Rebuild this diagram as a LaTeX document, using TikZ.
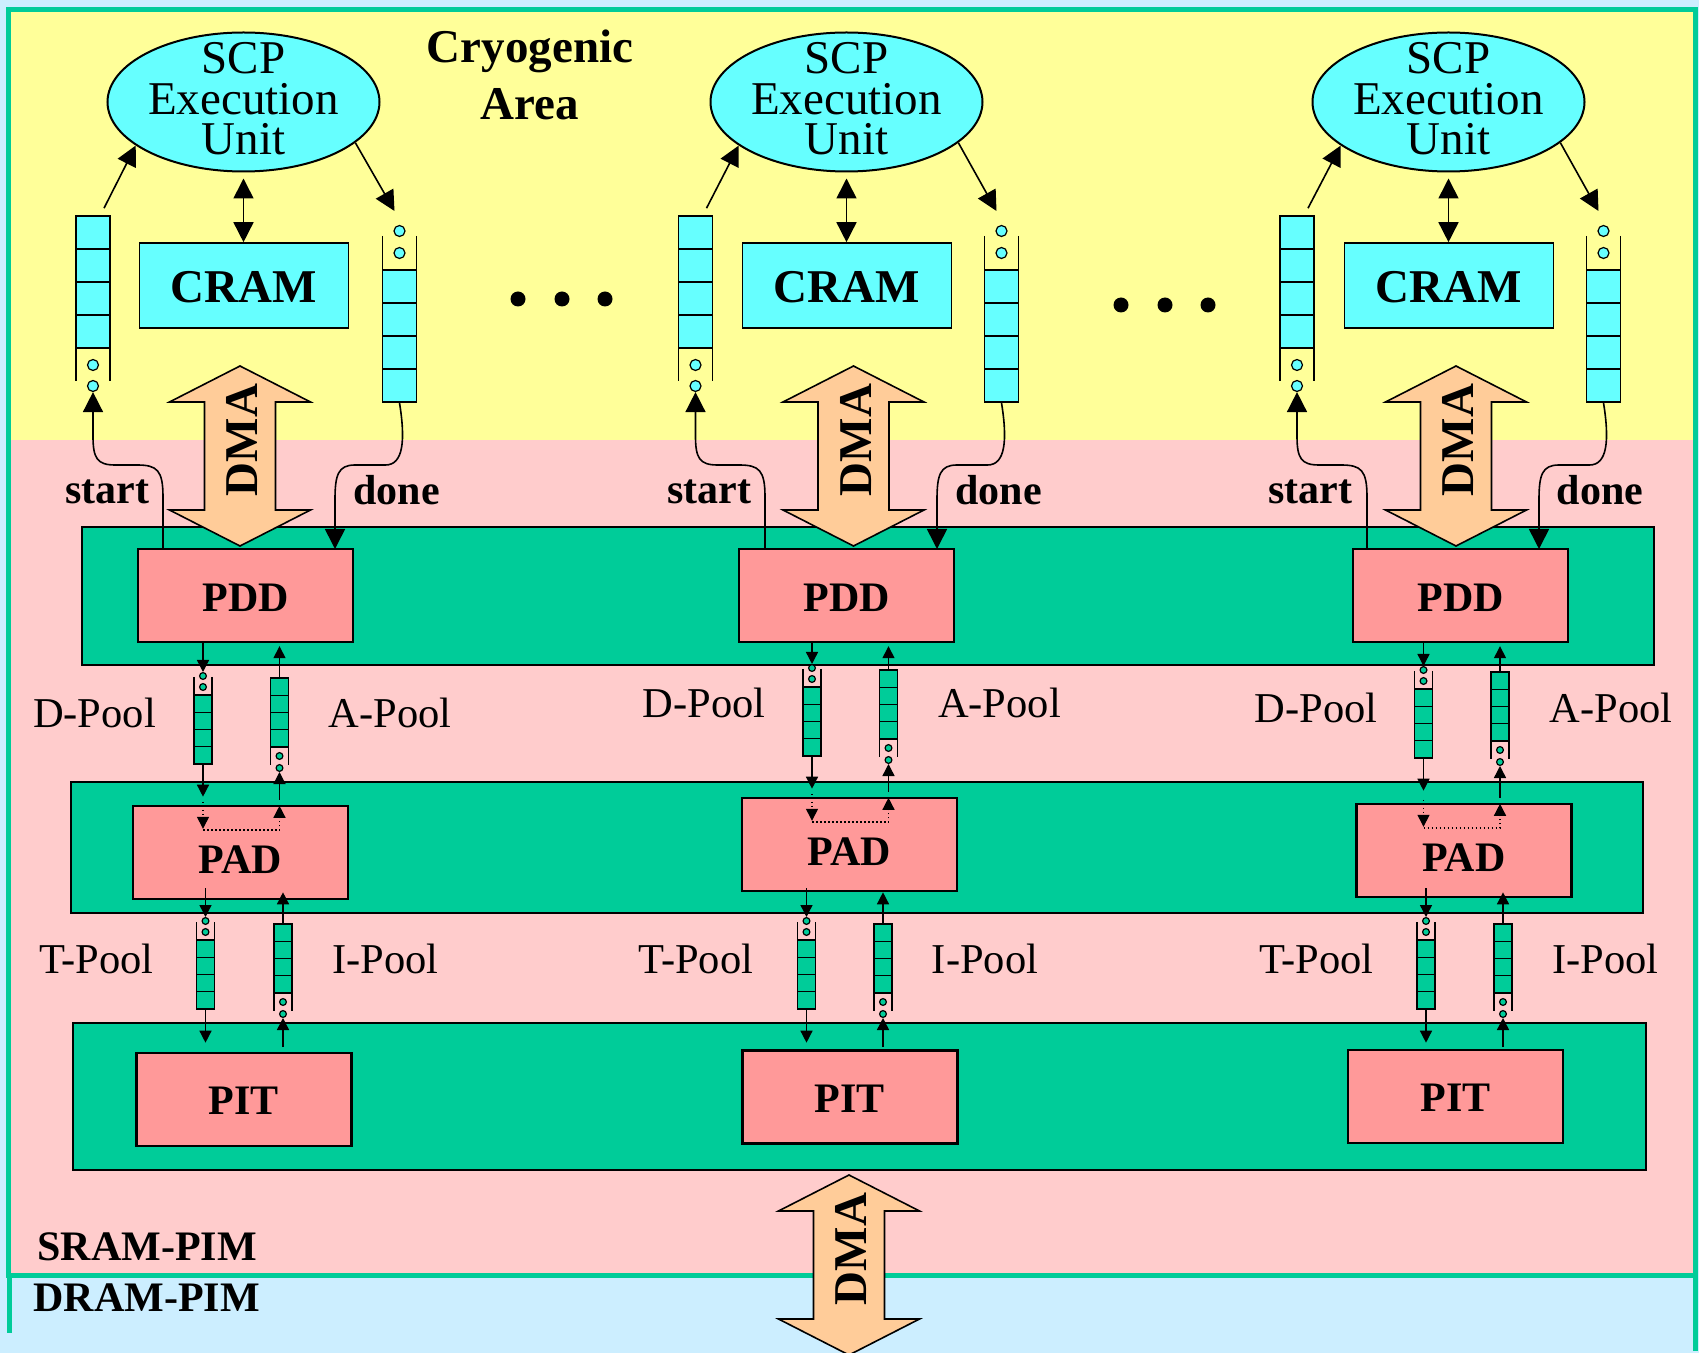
\documentclass[tikz,border=0pt]{standalone}
\usepackage{fontspec}
\setmainfont{Liberation Serif}
\usetikzlibrary{arrows.meta,shapes.geometric,calc}
\definecolor{bgblue}{HTML}{CCEEFF}
\definecolor{tealc}{HTML}{00CC99}
\definecolor{yel}{HTML}{FFFF99}
\definecolor{pnk}{HTML}{FFCCCC}
\definecolor{cyn}{HTML}{66FFFF}
\definecolor{salm}{HTML}{FF9999}
\definecolor{peach}{HTML}{FFCC99}
\tikzset{
 band/.style={draw=black, fill=tealc, line width=1.2pt, inner sep=0pt},
 redbox/.style={draw=black, fill=salm, line width=1.2pt, inner sep=0pt, minimum width=107.5pt, minimum height=46.5pt, font=\fontsize{21}{24}\selectfont\bfseries, text depth=0pt},
 crambox/.style={draw=black, fill=cyn, line width=0.8pt, inner sep=0pt, minimum width=104.5pt, minimum height=42.5pt, font=\fontsize{23.5}{28}\selectfont\bfseries, text depth=0pt, text height=17.5pt},
 ell/.style={ellipse, draw=black, fill=cyn, line width=1pt, inner sep=0pt, minimum width=136pt, minimum height=69.5pt},
 etext/.style={align=center, inner sep=0pt, font=\fontsize{23.5}{20.25}\selectfont},
 cq/.style={draw=black, fill=cyn, line width=0.8pt, inner sep=0pt, minimum width=17pt, minimum height=66pt},
 qline/.style={line width=0.8pt},
 cdot/.style={circle, draw=black, fill=cyn, line width=0.6pt, inner sep=0pt, minimum size=5.5pt},
 tq/.style={draw=black, fill=tealc, line width=0.7pt, inner sep=0pt, minimum width=9pt, minimum height=34.5pt},
 pline/.style={line width=0.7pt},
 tdot/.style={circle, draw=black, fill=tealc, line width=0.6pt, inner sep=0pt, minimum size=3.4pt},
 barrow/.style={line width=0.8pt, -{Triangle[length=10pt,width=10pt]}},
 dbarrow/.style={line width=0.8pt, {Triangle[length=10pt,width=10pt]}-{Triangle[length=10pt,width=10pt]}},
 sarrow/.style={line width=0.7pt, -{Triangle[length=6pt,width=6pt]}},
 darrow/.style={line width=0.7pt, dash pattern=on 0.8pt off 1.2pt, -{Triangle[length=6pt,width=6pt]}},
 dmashape/.style={draw=black, fill=peach, line width=0.8pt, line join=miter},
 dmatext/.style={rotate=90, inner sep=0pt, font=\fontsize{23.5}{28}\selectfont\bfseries, text depth=0pt},
 bigtext/.style={inner sep=0pt, font=\fontsize{23.5}{28}\selectfont\bfseries},
 boldtext/.style={inner sep=0pt, font=\fontsize{21}{24}\selectfont\bfseries},
 pooltext/.style={inner sep=0pt, font=\fontsize{21.25}{24}\selectfont},
 bigdot/.style={circle, fill=black, inner sep=0pt, minimum size=7.5pt},
 frameline/.style={draw=tealc, line width=2.5pt},
}
% cyan queue, boxes on top, open end below (start queue)
\newcommand\startqueue[2]{%
  \node[cq] (#1) at (#2,282) {};
  \draw[qline] (#2-17,249) -- (#2+17,249) (#2-17,282) -- (#2+17,282) (#2-17,315) -- (#2+17,315);
  \draw[qline] (#2-17,348) -- (#2-17,381) (#2+17,348) -- (#2+17,381);
  \node[cdot] (#1-a) at (#2,365) {};
  \node[cdot] (#1-b) at (#2,386) {};}
% cyan queue, open end on top (done queue)
\newcommand\donequeue[2]{%
  \node[cdot] (#1-a) at (#2,231) {};
  \node[cdot] (#1-b) at (#2,253) {};
  \draw[qline] (#2-17,236) -- (#2-17,270) (#2+17,236) -- (#2+17,270);
  \node[cq] (#1) at (#2,336) {};
  \draw[qline] (#2-17,303) -- (#2+17,303) (#2-17,336) -- (#2+17,336) (#2-17,369) -- (#2+17,369);}
% small pool queue, open end on top
\newcommand\poolin[3]{%
  \node[tdot] (#1-a) at (#2,#3) {};
  \node[tdot] (#1-b) at (#2,#3+11) {};
  \draw[pline] (#2-9,#3+1) -- (#2-9,#3+19) (#2+9,#3+1) -- (#2+9,#3+19);
  \node[tq] (#1) at (#2,#3+53.5) {};
  \draw[pline] (#2-9,#3+36.25) -- (#2+9,#3+36.25) (#2-9,#3+53.5) -- (#2+9,#3+53.5) (#2-9,#3+70.75) -- (#2+9,#3+70.75);}
% small pool queue, open end below
\newcommand\poolout[3]{%
  \node[tq] (#1) at (#2,#3+34.5) {};
  \draw[pline] (#2-9,#3+17.25) -- (#2+9,#3+17.25) (#2-9,#3+34.5) -- (#2+9,#3+34.5) (#2-9,#3+51.75) -- (#2+9,#3+51.75);
  \draw[pline] (#2-9,#3+69) -- (#2-9,#3+87) (#2+9,#3+69) -- (#2+9,#3+87);
  \node[tdot] (#1-a) at (#2,#3+78) {};
  \node[tdot] (#1-b) at (#2,#3+90) {};}
% DMA double arrow: name, centre x, top y
\newcommand\dmaarrow[3]{%
  \draw[dmashape] (#2,#3) -- (#2+70.5,#3+36) -- (#2+35.5,#3+36) -- (#2+35.5,#3+144) -- (#2+70.5,#3+144) -- (#2,#3+180) -- (#2-70.5,#3+144) -- (#2-35.5,#3+144) -- (#2-35.5,#3+36) -- (#2-70.5,#3+36) -- cycle;
  \node[dmatext] (#1) at (#2+2,#3+74) {DMA};}
\begin{document}
\begin{tikzpicture}[x=0.5pt,y=-0.5pt]
\useasboundingbox (0,0) rectangle (1699,1353);
\fill[bgblue] (0,0) rectangle (1699,1353);
\fill[yel] (8,9.5) rectangle (1695,440);
\fill[pnk] (8,440) rectangle (1695,1275);
\draw[frameline] (8,9.5) rectangle (1695,1275);
\draw[frameline] (9,1275) -- (9,1333);
\draw[frameline] (1695,1275) -- (1695,1351);
% bands
\node[band, minimum width=786pt, minimum height=69pt] (B1) at (868,596) {};
\node[band, minimum width=786pt, minimum height=65.5pt] (B2) at (857,847.5) {};
\node[band, minimum width=786.5pt, minimum height=73.5pt] (B3) at (859.5,1096.5) {};
% titles
\node[bigtext, anchor=base] (CRY) at (530,62.5) {Cryogenic};
\node[bigtext, anchor=base] (AREA) at (530,120) {Area};
% dots
\node[bigdot] (DT1) at (518,299) {};
\node[bigdot] (DT2) at (562,299) {};
\node[bigdot] (DT3) at (605,299) {};
\node[bigdot] (DT4) at (1121,305) {};
\node[bigdot] (DT5) at (1165,305) {};
\node[bigdot] (DT6) at (1208,305) {};
\foreach \i/\xE/\xL/\xR/\xM/\xS/\xD/\xP/\xs/\xd/\xq/\xa/\yD/\xdl/\xal/\ylb/\xpa/\ypa/\xt/\xI/\xpt/\ypt/\xtl/\xil in {%
1/243.5/93/399.5/240/107.5/396.5/245.5/163/335/203/279.5/676/94.5/390/727/240.5/852.5/205.5/283/244/1099.5/96.5/385.5,%
2/846.5/695.5/1001.5/853.5/709.5/998.5/846.5/765/937/812/888.5/668/704/999.5/718/849.5/844.5/806.5/883/850/1097/696/985,%
3/1448.5/1297/1603.5/1456/1310/1600/1460.5/1367/1539/1423.5/1500/670/1316/1611/722/1464/850.5/1426/1503/1455.5/1096.5/1316.5/1605.5}{%
  % cryogenic part
  \node[ell] (E\i) at (\xE,102) {};
  \node[etext] (ET\i) at (\xE,99) {SCP\\Execution\\Unit};
  \node[crambox] (C\i) at (\xE+0.5,285.5) {CRAM};
  \draw[dbarrow] ($(E\i.south)+(0,6)$) -- (E\i.south |- C\i.north);
  \startqueue{SQ\i}{\xL}
  \donequeue{RQ\i}{\xR}
  \draw[barrow] ($(SQ\i.north)+(11,-7)$) -- (E\i.202);
  \draw[barrow] (E\i.340) -- ($(RQ\i-a)+(-5,-20)$);
  % PDD level
  \node[redbox, text height=16pt] (PDD\i) at (\xP,595.5) {PDD};
  \dmaarrow{DMA\i}{\xM}{366}
  \coordinate (ST\i) at (\xs,549);
  \coordinate (DN\i) at (\xd,549);
  \draw[barrow] (ST\i) -- (\xs,497) .. controls (\xs,470) and (\xs-6,465) .. (\xs-26,465) -- (\xL+22,465) .. controls (\xL+4,465) and (\xL,458) .. (\xL,436) -- (SQ\i-b.south);
  \draw[barrow] (RQ\i.south) .. controls (\xR+6,440) and (\xR+4,465) .. (\xR-14,465) -- (\xd+20,465) .. controls (\xd+3,465) and (\xd,475) .. (\xd,500) -- (DN\i);
  \node[boldtext, anchor=base] (SL\i) at (\xS,503.5) {start};
  \node[boldtext, anchor=base] (DL\i) at (\xD,505) {done};
  % D / A pools
  \poolin{DQ\i}{\xq}{\yD}
  \poolout{AQ\i}{\xa}{\yD+2}
  \node[pooltext, anchor=base] (DP\i) at (\xdl,\ylb) {D-Pool};
  \node[pooltext, anchor=base] (AP\i) at (\xal,\ylb) {A-Pool};
  \node[redbox, text height=20.5pt] (PAD\i) at (\xpa,\ypa) {PAD};
  \draw[sarrow] (DQ\i-a |- PDD\i.south) -- (DQ\i-a);
  \draw[sarrow] (DQ\i.south) -- ++(0,32);
  \draw[darrow] ($(PAD\i.north -| DQ\i)+(0,-3)$) -- ($(PAD\i.north -| DQ\i)+(0,24)$);
  \draw[darrow] ($(PAD\i.north -| DQ\i)+(0,25)$) -- ($(PAD\i.north -| AQ\i)+(0,25)$) -- ($(PAD\i.north -| AQ\i)+(0,1)$);
  \draw[sarrow] ($(PAD\i.north -| AQ\i)+(0,-5)$) -- (AQ\i-b);
  \draw[sarrow] (AQ\i.north) -- ($(AQ\i.north |- PDD\i.south)+(0,3)$);
  % T / I pools
  \poolin{TQ\i}{\xt}{921}
  \poolout{IQ\i}{\xI}{924}
  \node[pooltext, anchor=base] (TP\i) at (\xtl,973) {T-Pool};
  \node[pooltext, anchor=base] (IP\i) at (\xil,973) {I-Pool};
  \node[redbox, text height=15pt] (PIT\i) at (\xpt,\ypt) {PIT};
  \draw[sarrow] ($(TQ\i-a)+(0,-33)$) -- (TQ\i-a);
  \draw[sarrow] (TQ\i.south) -- ++(0,33);
  \draw[sarrow] ($(IQ\i-b)+(0,33)$) -- (IQ\i-b);
  \draw[sarrow] (IQ\i.north) -- ++(0,-31);
}
% bottom DMA
\dmaarrow{DMA4}{849}{1175}
\node[boldtext, anchor=base west] (SRAM) at (37,1260) {SRAM-PIM};
\node[boldtext, anchor=base west] (DRAM) at (33,1311) {DRAM-PIM};
\end{tikzpicture}
\end{document}
